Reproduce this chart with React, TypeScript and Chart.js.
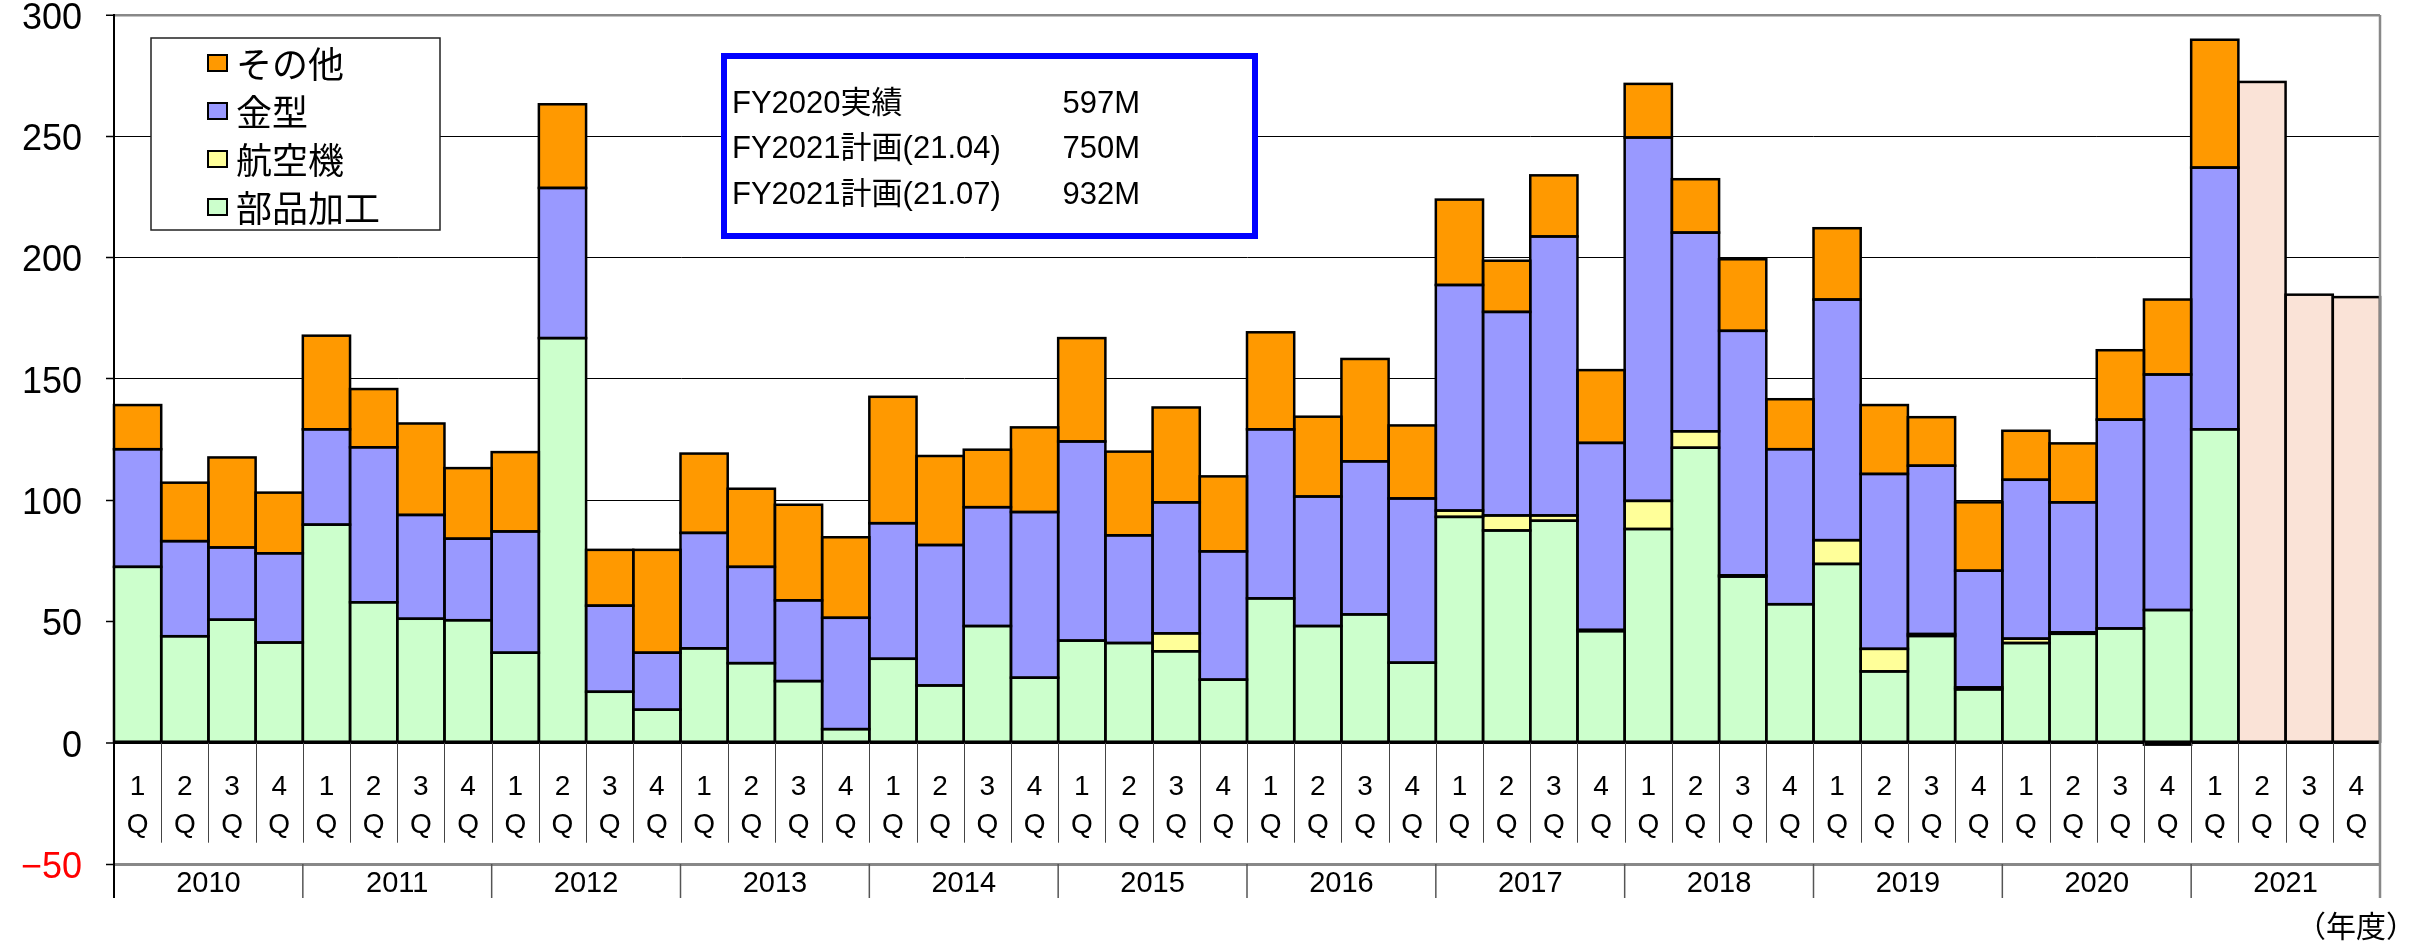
import React, { useEffect, useRef } from 'react';
import { Chart, registerables } from 'chart.js';

Chart.register(...registerables);

// ---- data ----
const years = ['2010', '2011', '2012', '2013', '2014', '2015', '2016', '2017', '2018', '2019', '2020', '2021'];
const quarterNums = ['1', '2', '3', '4'];
const categories = years.flatMap((y) => quarterNums.map((q) => `${y} ${q}Q`));

// 部品加工 (green)
const partsValues = [
  72.5, 43.9, 50.7, 41.3,
  89.9, 57.9, 51.1, 50.5,
  37.1, 166.8, 21.0, 13.6,
  38.9, 32.8, 25.4, 5.6,
  34.6, 23.6, 48.1, 26.8,
  42.1, 41.1, 37.7, 26.0,
  59.5, 48.1, 52.9, 33.0,
  93.1, 87.5, 91.5, 46.0,
  88.1, 121.6, 68.5, 57.1,
  73.7, 29.4, 44.0, 22.0,
  41.1, 44.9, 47.1, 54.7,
  129.2, null, null, null,
];
// 航空機 (yellow)
const aircraftValues = [
  0, 0, 0, 0,
  0, 0, 0, 0,
  0, 0, 0, 0,
  0, 0, 0, 0,
  0, 0, 0, 0,
  0, 0, 7.4, 0,
  0, 0, 0, 0,
  2.6, 6.2, 2.2, 0.5,
  11.6, 6.8, 0.5, 0,
  9.8, 9.3, 0.8, 0.8,
  1.8, 0.6, 0, -0.8,
  0, null, null, null,
];
// 金型 (blue)
const moldValues = [
  48.5, 39.2, 29.8, 36.8,
  39.3, 63.9, 42.8, 33.6,
  50.0, 61.9, 35.5, 23.5,
  47.6, 39.7, 33.3, 45.9,
  55.9, 57.9, 49.0, 68.3,
  82.1, 44.4, 54.0, 52.9,
  69.7, 53.4, 63.1, 67.7,
  93.0, 83.9, 115.0, 77.1,
  149.8, 81.9, 100.8, 63.9,
  99.2, 72.1, 69.4, 48.1,
  65.5, 53.6, 86.1, 97.1,
  107.9, null, null, null,
];
// その他 (orange)
const otherValues = [
  18.2, 24.1, 37.1, 25.0,
  38.6, 24.0, 37.7, 29.1,
  32.7, 34.5, 23.0, 42.4,
  32.7, 32.2, 39.4, 33.2,
  52.1, 36.7, 23.7, 34.9,
  42.6, 34.5, 39.1, 30.9,
  40.0, 32.9, 42.2, 30.1,
  35.2, 21.1, 25.2, 30.0,
  22.1, 22.0, 29.5, 20.6,
  29.4, 28.4, 20.0, 28.2,
  20.2, 24.3, 28.6, 30.9,
  52.7, null, null, null,
];
// 計画 (plan, peach)
const planValues = [
  ...Array(45).fill(null),
  272.4, 184.7, 183.7,
];

const seriesLabels = ['部品加工', '航空機', '金型', 'その他', '計画'];
const seriesColors = ['#CCFFCC', '#FFFF99', '#9999FF', '#FF9900', '#FAE3D7'];

const infoRows = [
  ['FY2020実績', '597M'],
  ['FY2021計画(21.04)', '750M'],
  ['FY2021計画(21.07)', '932M'],
];
const yearUnitLabel = '（年度）';

const LATIN = '"Liberation Sans", Arial, "Noto Sans CJK JP", sans-serif';
const CJK = '"Noto Sans CJK JP", "Liberation Sans", sans-serif';

const decorPlugin = {
  id: 'decor',
  afterDatasetsDraw(chart: any) {
    const ctx = chart.ctx;
    ctx.save();
    ctx.strokeStyle = '#000';
    ctx.lineWidth = 2.5;
    chart.data.datasets.forEach((ds: any, di: number) => {
      const meta = chart.getDatasetMeta(di);
      meta.data.forEach((el: any, i: number) => {
        const v = ds.data[i];
        if (v == null || v === 0) return;
        const p = el.getProps(['x', 'y', 'base', 'width'], true);
        ctx.strokeRect(p.x - p.width / 2, Math.min(p.y, p.base), p.width, Math.abs(p.base - p.y));
      });
    });
    ctx.restore();
  },
  afterDraw(chart: any) {
    const ctx = chart.ctx;
    const xs = chart.scales.x;
    const ys = chart.scales.y;
    const area = chart.chartArea;
    const y0 = ys.getPixelForValue(0);
    const yM = ys.getPixelForValue(-50);
    const half = (xs.getPixelForValue(1) - xs.getPixelForValue(0)) / 2;
    const n = categories.length;
    const edge = (i: number) => (i < n ? xs.getPixelForValue(i) - half : xs.getPixelForValue(n - 1) + half);

    ctx.save();
    // y tick labels
    ctx.font = `36px ${LATIN}`;
    ctx.textAlign = 'right';
    ctx.textBaseline = 'middle';
    ys.ticks.forEach((t: any) => {
      const v = t.value;
      ctx.fillStyle = v < 0 ? '#FF0000' : '#000';
      ctx.fillText(v < 0 ? '−' + Math.abs(v) : String(v), area.left - 32, ys.getPixelForValue(v) + 4);
    });

    // quarter dividers
    ctx.strokeStyle = '#444';
    ctx.lineWidth = 1;
    for (let i = 1; i < n; i++) {
      const x = Math.round(edge(i)) + 0.5;
      ctx.beginPath();
      ctx.moveTo(x, y0);
      ctx.lineTo(x, y0 + 100);
      ctx.stroke();
    }
    // quarter labels
    ctx.fillStyle = '#000';
    ctx.font = `28px ${LATIN}`;
    ctx.textAlign = 'center';
    ctx.textBaseline = 'middle';
    categories.forEach((c, i) => {
      const x = xs.getPixelForValue(i);
      const q = c.split(' ')[1];
      ctx.fillText(q.charAt(0), x, y0 + 45);
      ctx.fillText(q.charAt(1), x, y0 + 83);
    });
    // year dividers and labels
    ctx.strokeStyle = '#555';
    ctx.lineWidth = 1.5;
    for (let g = 0; g <= years.length; g++) {
      const x = edge(g * 4);
      ctx.beginPath();
      ctx.moveTo(x, yM);
      ctx.lineTo(x, yM + 34);
      ctx.stroke();
    }
    ctx.font = `29px ${LATIN}`;
    years.forEach((y, g) => {
      const x = (edge(g * 4) + edge(g * 4 + 4)) / 2;
      ctx.fillText(y, x, yM + 20);
    });
    // right border
    ctx.strokeStyle = '#888';
    ctx.lineWidth = 2.5;
    ctx.beginPath();
    ctx.moveTo(area.right, area.top);
    ctx.lineTo(area.right, yM + 34);
    ctx.stroke();
    // left axis extension
    ctx.strokeStyle = '#000';
    ctx.lineWidth = 2;
    ctx.beginPath();
    ctx.moveTo(area.left, y0);
    ctx.lineTo(area.left, yM + 34);
    ctx.stroke();

    // unit label
    ctx.font = `30px ${CJK}`;
    ctx.textAlign = 'right';
    ctx.fillText(yearUnitLabel, 2416, 926);

    // legend box
    ctx.fillStyle = '#fff';
    ctx.fillRect(151, 38, 289, 192);
    ctx.strokeStyle = '#222';
    ctx.lineWidth = 1.5;
    ctx.strokeRect(151, 38, 289, 192);
    const legendOrder = [3, 2, 1, 0];
    const rowY = [63, 111, 159, 207];
    legendOrder.forEach((di, r) => {
      const cy = rowY[r];
      ctx.fillStyle = seriesColors[di];
      ctx.fillRect(208, cy - 8, 19, 16);
      ctx.strokeStyle = '#000';
      ctx.lineWidth = 2;
      ctx.strokeRect(208, cy - 8, 19, 16);
      ctx.fillStyle = '#000';
      ctx.font = `36px ${CJK}`;
      ctx.textAlign = 'left';
      ctx.textBaseline = 'middle';
      ctx.fillText(seriesLabels[di], 236, cy + 1);
    });

    // info box
    ctx.fillStyle = '#fff';
    ctx.fillRect(724, 56, 531, 180);
    ctx.strokeStyle = '#0000FF';
    ctx.lineWidth = 6;
    ctx.strokeRect(724, 56, 531, 180);
    ctx.fillStyle = '#000';
    ctx.font = `31px ${LATIN}`;
    const infoY = [104, 149, 195];
    infoRows.forEach((row, r) => {
      ctx.textAlign = 'left';
      ctx.fillText(row[0], 732, infoY[r]);
      ctx.textAlign = 'right';
      ctx.fillText(row[1], 1140, infoY[r]);
    });
    ctx.restore();
  },
};

export default function App() {
  const ref = useRef<HTMLCanvasElement | null>(null);
  useEffect(() => {
    if (!ref.current) return;
    const datasets = [partsValues, aircraftValues, moldValues, otherValues, planValues].map((d, i) => ({
      label: seriesLabels[i],
      data: d,
      backgroundColor: seriesColors[i],
      borderWidth: 0,
      barPercentage: 1,
      categoryPercentage: 1,
    }));
    const chart = new Chart(ref.current, {
      type: 'bar',
      data: { labels: categories, datasets },
      options: {
        animation: false,
        responsive: false,
        devicePixelRatio: 1,
        layout: { padding: { top: 15, right: 40, bottom: 88, left: 0 } },
        plugins: { legend: { display: false }, tooltip: { enabled: false } },
        scales: {
          x: { stacked: true, display: false },
          y: {
            stacked: true,
            min: -50,
            max: 300,
            afterFit(scale: any) {
              scale.width = 114;
              scale.paddingTop = 0;
              scale.paddingBottom = 0;
            },
            ticks: {
              stepSize: 50,
              display: false,
            },
            grid: {
              color: (c: any) => {
                const v = c.tick ? c.tick.value : 0;
                return v === 300 || v === -50 ? '#888' : '#000';
              },
              lineWidth: (c: any) => {
                const v = c.tick ? c.tick.value : 0;
                if (v === 300) return 2.5;
                if (v === -50) return 3;
                if (v === 0) return 2;
                return 1;
              },
              drawTicks: true,
              tickLength: 8,
              tickColor: '#000',
              tickWidth: 1.5,
            },
            border: { display: true, color: '#000', width: 2 },
          },
        },
      },
      plugins: [decorPlugin],
    } as any);
    return () => chart.destroy();
  }, []);
  return (
    <div style={{ position: 'absolute', left: 0, top: 0, width: 2420, height: 952, background: '#fff' }}>
      <canvas ref={ref} width={2420} height={952} style={{ width: 2420, height: 952 }} />
    </div>
  );
}
